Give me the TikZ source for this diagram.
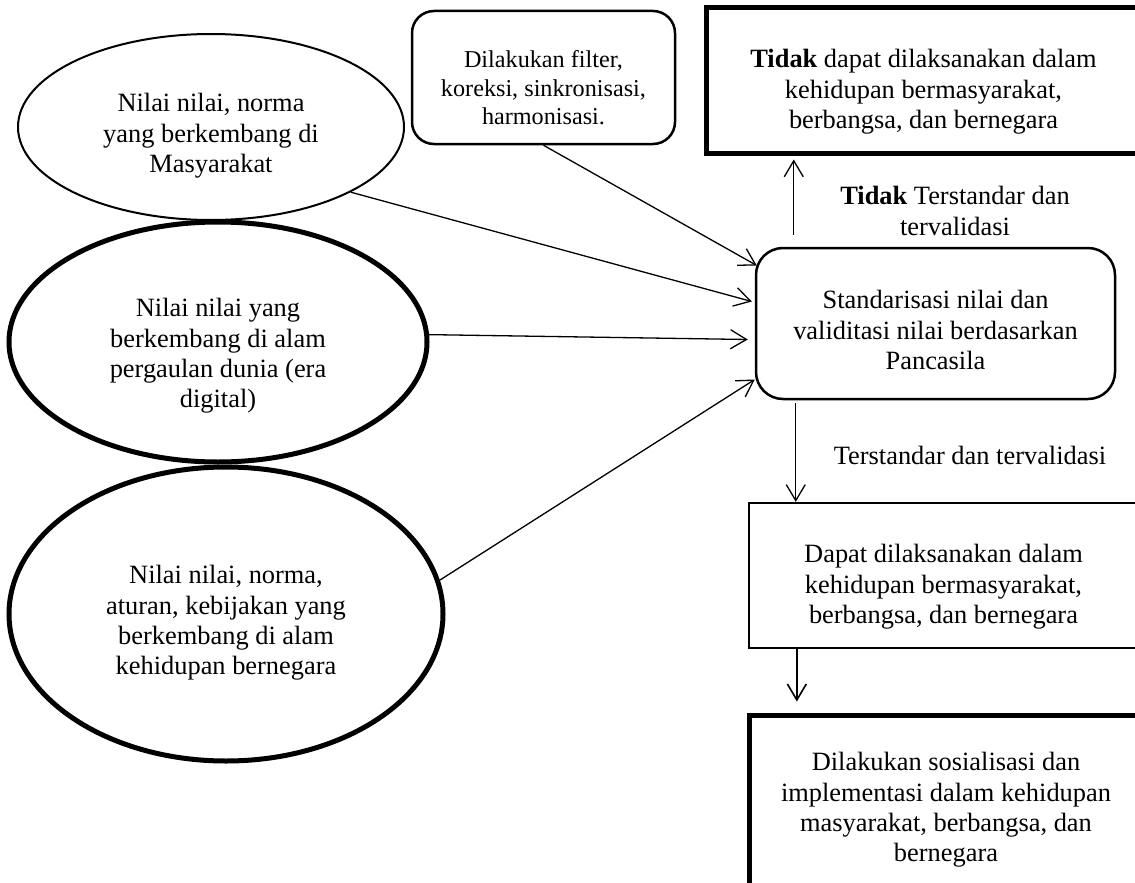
\documentclass[tikz,border=0pt]{standalone}
\usepackage{fontspec}
\setmainfont{Liberation Serif}
\usetikzlibrary{arrows.meta,shapes.geometric,calc}
\begin{document}
\begin{tikzpicture}[x=1pt,y=-1pt,
  txt/.style={font=\fontsize{26.4}{30.4}\selectfont, align=center, inner sep=0pt},
  smalltxt/.style={font=\fontsize{24.2}{28.6}\selectfont, align=center, inner sep=0pt},
  thinbox/.style={draw, line width=2.3pt, inner sep=0pt},
  thickbox/.style={draw, line width=5pt, inner sep=0pt},
  roundbox/.style={draw, line width=2.5pt, inner sep=0pt, rounded corners=25pt},
  thinell/.style={draw, ellipse, line width=2pt, inner sep=0pt},
  thickell/.style={draw, ellipse, line width=5pt, inner sep=0pt},
  conn/.style={line width=1.3pt, -{Straight Barb[length=16pt,width=19pt,line width=1.3pt]}},
  connb/.style={line width=2.2pt, -{Straight Barb[length=16pt,width=19pt,line width=1.6pt]}}
]
\clip (0,0) rectangle (1135,883);
\fill[white] (0,0) rectangle (1135,883);

% ellipses
\node[thinell, minimum width=386pt, minimum height=186pt] (E1) at (211,127) {};
\node[txt] (E1t) at (211,136) {Nilai nilai, norma\\yang berkembang di\\Masyarakat};
\node[thickell, minimum width=418pt, minimum height=240pt] (E2) at (218,342) {};
\node[txt] (E2t) at (218,356) {Nilai nilai yang\\berkembang di alam\\pergaulan dunia (era\\digital)};
\node[thickell, minimum width=434pt, minimum height=294pt] (E3) at (226,614) {};
\node[txt] (E3t) at (226,623) {Nilai nilai, norma,\\aturan, kebijakan yang\\berkembang di alam\\kehidupan bernegara};

% filter box
\node[roundbox, rounded corners=22pt, minimum width=263pt, minimum height=133pt] (F) at (543.5,77.5) {};
\node[smalltxt] (Ft) at (543.5,88) {Dilakukan filter,\\koreksi, sinkronisasi,\\harmonisasi.};

% top right box
\node[thickbox, minimum width=435pt, minimum height=145pt] (T) at (923.5,80.5) {};
\node[txt] (Tt) at (923.5,92) {\textbf{Tidak} dapat dilaksanakan dalam\\kehidupan bermasyarakat,\\berbangsa, dan bernegara};

% standarisasi
\node[roundbox, rounded corners=27pt, minimum width=359pt, minimum height=151pt] (S) at (935.5,323.5) {};
\node[txt] (St) at (935.5,330) {Standarisasi nilai dan\\validitasi nilai berdasarkan\\Pancasila};

% dapat
\node[thinbox, minimum width=389pt, minimum height=145pt] (D) at (943.5,575.5) {};
\node[txt] (Dt) at (943.5,587) {Dapat dilaksanakan dalam\\kehidupan bermasyarakat,\\berbangsa, dan bernegara};

% bottom box
\node[thickbox, minimum width=394pt, minimum height=200pt] (B) at (946,815) {};
\node[txt] (Bt) at (946,810) {Dilakukan sosialisasi dan\\implementasi dalam kehidupan\\masyarakat, berbangsa, dan\\bernegara};

% labels
\node[txt] (L1) at (955,211) {\textbf{Tidak} Terstandar dan\\tervalidasi};
\node[txt] (L2) at (970,455) {Terstandar dan tervalidasi};

% connectors into S
\draw[conn] (F.south) -- ($(S.west)+(2,-58)$);
\draw[conn] (E1.-25) -- ($(S.west)+(-3,-22)$);
\draw[conn] (E2.2.5) -- ($(S.west)+(-7,16)$);
\draw[conn] (E3.9) -- ($(S.west)+(0,56)$);

% vertical arrows
\coordinate (u1) at ($(S.north west)+(39,-12)$);
\draw[conn] (u1) -- ($(u1 |- T.south)+(0,4)$);
\coordinate (d1) at ($(S.south west)+(41,3)$);
\draw[conn] (d1) -- ($(d1 |- D.north)+(0,0)$);
\coordinate (d2) at ($(D.south west)+(49,0)$);
\draw[connb] (d2) -- ($(d2 |- B.north)+(0,-11)$);
\end{tikzpicture}
\end{document}
